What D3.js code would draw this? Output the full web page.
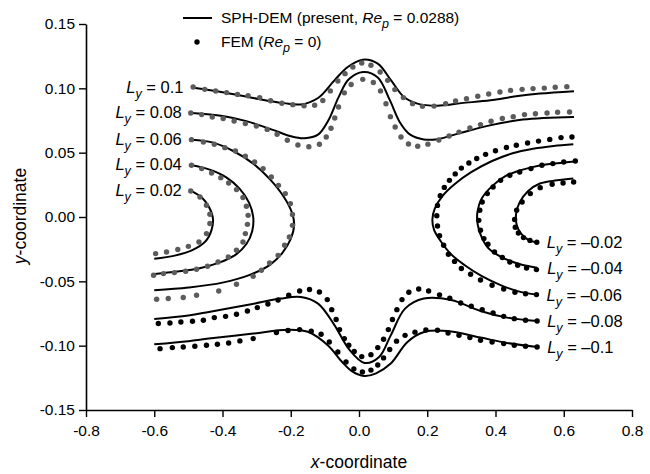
<!DOCTYPE html>
<html>
<head>
<meta charset="utf-8">
<script src="https://cdn.jsdelivr.net/npm/d3@7"></script>
<style>
  body { margin: 0; background: #fff; }
  svg { display: block; }
  text { font-family: "Liberation Sans", Arial, Helvetica, sans-serif; fill: #000; }
</style>
</head>
<body>
<svg id="chart" width="650" height="474"></svg>
<script>
// Particle trajectories released at different lateral offsets L_y.
const lyValues = [0.1, 0.08, 0.06, 0.04, 0.02, -0.02, -0.04, -0.06, -0.08, -0.1];
const lyLabels = ["0.1", "0.08", "0.06", "0.04", "0.02", "\u20130.02", "\u20130.04", "\u20130.06", "\u20130.08", "\u20130.1"];

// SPH-DEM trajectories (present, Re_p = 0.0288): [x, y]
const sphP010 = [[-0.485,0.1005],[-0.40,0.0970],[-0.31,0.0925],[-0.22,0.0885],[-0.17,0.0875],[-0.12,0.0925],[-0.072,0.1062],[-0.033,0.1166],[0.011,0.1223],[0.055,0.1192],[0.094,0.1062],[0.132,0.0932],[0.171,0.0881],[0.23,0.0865],[0.30,0.0885],[0.385,0.0907],[0.46,0.0938],[0.53,0.0959],[0.63,0.0978]];
const sphP008 = [[-0.49,0.0808],[-0.40,0.0785],[-0.33,0.0745],[-0.25,0.0675],[-0.20,0.0628],[-0.16,0.0612],[-0.12,0.0640],[-0.09,0.0750],[-0.06,0.0930],[-0.03,0.1070],[0.012,0.1127],[0.055,0.1085],[0.09,0.0910],[0.12,0.0735],[0.15,0.0640],[0.19,0.0603],[0.23,0.0605],[0.29,0.0648],[0.38,0.0710],[0.48,0.0757],[0.63,0.0777]];
const sphP006 = [[-0.49,0.0601],[-0.43,0.0580],[-0.37,0.0515],[-0.31,0.0415],[-0.26,0.0290],[-0.22,0.0155],[-0.196,0.0030],[-0.19,-0.0060],[-0.20,-0.0170],[-0.225,-0.0280],[-0.26,-0.0370],[-0.32,-0.0450],[-0.40,-0.0510],[-0.50,-0.0548],[-0.60,-0.0570]];
const sphP004 = [[-0.49,0.0402],[-0.44,0.0370],[-0.39,0.0310],[-0.35,0.0220],[-0.322,0.0110],[-0.31,0.0],[-0.313,-0.0110],[-0.33,-0.0210],[-0.36,-0.0290],[-0.41,-0.0355],[-0.47,-0.0400],[-0.54,-0.0425],[-0.605,-0.0445]];
const sphP002 = [[-0.49,0.0202],[-0.46,0.0150],[-0.44,0.0080],[-0.428,-0.0010],[-0.432,-0.0100],[-0.45,-0.0190],[-0.49,-0.0260],[-0.54,-0.0300],[-0.60,-0.0325]];
const sphN002 = [[0.628,0.0300],[0.58,0.0285],[0.53,0.0260],[0.495,0.0200],[0.47,0.0110],[0.46,0.0020],[0.462,-0.0060],[0.475,-0.0130],[0.495,-0.0175],[0.521,-0.0198]];
const sphN004 = [[0.632,0.0432],[0.58,0.0418],[0.53,0.0400],[0.48,0.0368],[0.43,0.0320],[0.39,0.0240],[0.36,0.0145],[0.347,0.0040],[0.348,-0.0060],[0.36,-0.0160],[0.38,-0.0245],[0.42,-0.0315],[0.47,-0.0365],[0.522,-0.0395]];
const sphN006 = [[0.628,0.0565],[0.57,0.0552],[0.51,0.0530],[0.45,0.0495],[0.39,0.0435],[0.33,0.0350],[0.28,0.0255],[0.245,0.0165],[0.222,0.0065],[0.215,-0.0020],[0.22,-0.0100],[0.24,-0.0190],[0.27,-0.0290],[0.31,-0.0375],[0.36,-0.0460],[0.42,-0.0535],[0.47,-0.0580],[0.52,-0.0603]];
const sphN008 = [[-0.60,-0.0792],[-0.50,-0.0765],[-0.44,-0.0738],[-0.32,-0.0680],[-0.23,-0.0634],[-0.17,-0.0622],[-0.12,-0.0673],[-0.072,-0.0840],[-0.03,-0.1025],[0.016,-0.1134],[0.059,-0.1088],[0.093,-0.0920],[0.135,-0.0712],[0.19,-0.0634],[0.27,-0.0645],[0.356,-0.0730],[0.434,-0.0782],[0.522,-0.0808]];
const sphN010 = [[-0.60,-0.0989],[-0.50,-0.0965],[-0.44,-0.0945],[-0.31,-0.0906],[-0.21,-0.0876],[-0.15,-0.0892],[-0.09,-0.1000],[-0.05,-0.1125],[-0.02,-0.1200],[0.015,-0.1235],[0.05,-0.1215],[0.093,-0.1139],[0.142,-0.0971],[0.191,-0.0894],[0.259,-0.0886],[0.356,-0.0937],[0.434,-0.0979],[0.522,-0.1010]];

// FEM trajectories (Re_p = 0): [x, y]
const femP010 = [[-0.486,0.1010],[-0.452,0.0992],[-0.420,0.0979],[-0.388,0.0967],[-0.356,0.0953],[-0.325,0.0942],[-0.291,0.0928],[-0.259,0.0903],[-0.226,0.0884],[-0.194,0.0873],[-0.161,0.0865],[-0.130,0.0868],[-0.106,0.0905],[-0.084,0.0980],[-0.062,0.1057],[-0.041,0.1114],[-0.018,0.1166],[0.008,0.1197],[0.035,0.1179],[0.062,0.1127],[0.084,0.1062],[0.105,0.0990],[0.130,0.0928],[0.157,0.0881],[0.186,0.0860],[0.220,0.0862],[0.254,0.0881],[0.283,0.0901],[0.315,0.0920],[0.348,0.0938],[0.380,0.0956],[0.413,0.0971],[0.444,0.0984],[0.478,0.0992],[0.510,0.0998],[0.543,0.1002],[0.575,0.1008],[0.609,0.1013]];
const femP008 = [[-0.493,0.0808],[-0.461,0.0796],[-0.430,0.0777],[-0.398,0.0765],[-0.366,0.0746],[-0.333,0.0726],[-0.301,0.0707],[-0.269,0.0681],[-0.240,0.0643],[-0.210,0.0596],[-0.179,0.0560],[-0.147,0.0546],[-0.116,0.0565],[-0.096,0.0622],[-0.082,0.0690],[-0.071,0.0770],[-0.060,0.0855],[-0.043,0.0965],[-0.023,0.1030],[0.011,0.1070],[0.042,0.1045],[0.063,0.0980],[0.079,0.0880],[0.092,0.0780],[0.106,0.0699],[0.123,0.0622],[0.145,0.0567],[0.172,0.0550],[0.202,0.0566],[0.234,0.0598],[0.264,0.0629],[0.293,0.0660],[0.325,0.0692],[0.356,0.0718],[0.387,0.0744],[0.420,0.0765],[0.452,0.0780],[0.485,0.0796],[0.517,0.0803],[0.551,0.0808],[0.582,0.0814],[0.617,0.0816]];
const femP006 = [[-0.491,0.0601],[-0.456,0.0583],[-0.424,0.0565],[-0.393,0.0539],[-0.362,0.0513],[-0.333,0.0472],[-0.306,0.0427],[-0.281,0.0376],[-0.257,0.0311],[-0.236,0.0246],[-0.216,0.0182],[-0.201,0.0104],[-0.195,0.0020],[-0.195,-0.0065],[-0.204,-0.0155],[-0.218,-0.0220],[-0.237,-0.0298],[-0.262,-0.0357],[-0.286,-0.0414],[-0.310,-0.0461],[-0.359,-0.0523],[-0.411,-0.0575],[-0.476,-0.0608],[-0.515,-0.0626],[-0.559,-0.0634],[-0.593,-0.0639]];
const femP004 = [[-0.491,0.0402],[-0.461,0.0376],[-0.432,0.0342],[-0.405,0.0306],[-0.382,0.0264],[-0.359,0.0213],[-0.340,0.0151],[-0.330,0.0083],[-0.325,0.0013],[-0.327,-0.0057],[-0.333,-0.0129],[-0.340,-0.0194],[-0.359,-0.0259],[-0.383,-0.0311],[-0.413,-0.0350],[-0.444,-0.0383],[-0.476,-0.0406],[-0.508,-0.0422],[-0.541,-0.0432],[-0.573,-0.0440],[-0.602,-0.0453]];
const femP002 = [[-0.493,0.0202],[-0.466,0.0155],[-0.447,0.0091],[-0.437,0.0021],[-0.437,-0.0051],[-0.447,-0.0129],[-0.469,-0.0194],[-0.500,-0.0228],[-0.531,-0.0253],[-0.564,-0.0272],[-0.596,-0.0285]];
const femN002 = [[0.629,0.0272],[0.598,0.0264],[0.566,0.0254],[0.531,0.0228],[0.502,0.0182],[0.478,0.0117],[0.462,0.0052],[0.456,-0.0020],[0.458,-0.0080],[0.467,-0.0124],[0.482,-0.0160],[0.501,-0.0182],[0.521,-0.0196]];
const femN004 = [[0.634,0.0435],[0.600,0.0427],[0.568,0.0415],[0.536,0.0402],[0.504,0.0376],[0.471,0.0350],[0.442,0.0324],[0.415,0.0285],[0.393,0.0233],[0.376,0.0182],[0.361,0.0117],[0.354,0.0052],[0.351,-0.0026],[0.356,-0.0103],[0.366,-0.0168],[0.378,-0.0212],[0.397,-0.0272],[0.420,-0.0315],[0.442,-0.0350],[0.465,-0.0375],[0.491,-0.0396],[0.520,-0.0409]];
const femN006 = [[0.624,0.0622],[0.592,0.0617],[0.559,0.0603],[0.526,0.0590],[0.494,0.0575],[0.461,0.0558],[0.432,0.0540],[0.400,0.0515],[0.371,0.0487],[0.345,0.0455],[0.322,0.0420],[0.300,0.0380],[0.282,0.0335],[0.265,0.0285],[0.250,0.0230],[0.238,0.0165],[0.230,0.0090],[0.228,0.0010],[0.230,-0.0070],[0.236,-0.0145],[0.248,-0.0220],[0.262,-0.0290],[0.280,-0.0345],[0.300,-0.0400],[0.327,-0.0445],[0.356,-0.0490],[0.390,-0.0530],[0.424,-0.0560],[0.457,-0.0585],[0.488,-0.0597],[0.520,-0.0603]];
const femN008 = [[-0.588,-0.0828],[-0.554,-0.0824],[-0.522,-0.0816],[-0.488,-0.0810],[-0.456,-0.0803],[-0.424,-0.0782],[-0.391,-0.0772],[-0.359,-0.0756],[-0.327,-0.0730],[-0.298,-0.0704],[-0.267,-0.0676],[-0.237,-0.0645],[-0.206,-0.0608],[-0.174,-0.0575],[-0.145,-0.0564],[-0.116,-0.0583],[-0.093,-0.0642],[-0.080,-0.0720],[-0.067,-0.0797],[-0.057,-0.0875],[-0.043,-0.0945],[-0.030,-0.0997],[-0.014,-0.1045],[0.008,-0.1085],[0.035,-0.1070],[0.055,-0.1015],[0.072,-0.0950],[0.086,-0.0875],[0.098,-0.0797],[0.111,-0.0720],[0.126,-0.0642],[0.146,-0.0585],[0.175,-0.0560],[0.204,-0.0575],[0.236,-0.0605],[0.266,-0.0632],[0.298,-0.0668],[0.329,-0.0694],[0.361,-0.0720],[0.393,-0.0746],[0.424,-0.0772],[0.455,-0.0790],[0.488,-0.0803],[0.522,-0.0808]];
const femN010 = [[-0.583,-0.1023],[-0.547,-0.1015],[-0.515,-0.1010],[-0.481,-0.1005],[-0.447,-0.0997],[-0.415,-0.0989],[-0.382,-0.0979],[-0.349,-0.0963],[-0.310,-0.0945],[-0.242,-0.0898],[-0.208,-0.0882],[-0.174,-0.0875],[-0.140,-0.0888],[-0.111,-0.0911],[-0.087,-0.0971],[-0.062,-0.1049],[-0.038,-0.1127],[-0.015,-0.1180],[0.010,-0.1205],[0.035,-0.1190],[0.055,-0.1150],[0.072,-0.1095],[0.090,-0.1030],[0.110,-0.0965],[0.135,-0.0920],[0.164,-0.0895],[0.196,-0.0878],[0.230,-0.0880],[0.261,-0.0901],[0.293,-0.0919],[0.325,-0.0937],[0.356,-0.0958],[0.390,-0.0971],[0.424,-0.0984],[0.455,-0.0997],[0.488,-0.1005],[0.522,-0.1010]];

// Axis ticks
const xTicks = [-0.8, -0.6, -0.4, -0.2, 0.0, 0.2, 0.4, 0.6, 0.8];
const xMinorTicks = [-0.7, -0.5, -0.3, -0.1, 0.1, 0.3, 0.5, 0.7];
const yTicks = [-0.15, -0.10, -0.05, 0.00, 0.05, 0.10, 0.15];
const yMinorTicks = [-0.125, -0.075, -0.025, 0.025, 0.075, 0.125];

const sphSeries = [sphP010, sphP008, sphP006, sphP004, sphP002, sphN002, sphN004, sphN006, sphN008, sphN010];
const femSeries = [femP010, femP008, femP006, femP004, femP002, femN002, femN004, femN006, femN008, femN010];

const svg = d3.select("#chart");
const x = d3.scaleLinear().domain([-0.8, 0.8]).range([86, 632]);
const y = d3.scaleLinear().domain([-0.15, 0.15]).range([410, 24]);

const FONT = 15.5;

// Axes
const gx = svg.append("g").attr("transform", `translate(0,${y(-0.15)})`);
gx.call(d3.axisBottom(x).tickValues(xMinorTicks).tickSize(4).tickSizeOuter(0).tickFormat(""));
gx.call(d3.axisBottom(x).tickValues(xTicks).tickSize(7).tickSizeOuter(0).tickPadding(8)
  .tickFormat(d => d.toFixed(1)));
const gy = svg.append("g").attr("transform", `translate(${x(-0.8)},0)`);
gy.call(d3.axisLeft(y).tickValues(yMinorTicks).tickSize(4).tickSizeOuter(0).tickFormat(""));
gy.call(d3.axisLeft(y).tickValues(yTicks).tickSize(7).tickSizeOuter(0).tickPadding(4)
  .tickFormat(d => d.toFixed(2)));
svg.selectAll(".domain").attr("stroke", "#000").attr("stroke-width", 1.6);
svg.selectAll(".tick line").attr("stroke", "#000").attr("stroke-width", 1.4);
svg.selectAll(".tick text").attr("font-size", FONT).attr("font-family", null).attr("fill", "#000");

// Axis titles
const xt = svg.append("text").attr("x", 359).attr("y", 468).attr("text-anchor", "middle").attr("font-size", 17.5);
xt.append("tspan").attr("font-style", "italic").text("x");
xt.append("tspan").text("-coordinate");
const yt = svg.append("text").attr("transform", "translate(26,216) rotate(-90)").attr("text-anchor", "middle").attr("font-size", 17.5);
yt.append("tspan").attr("font-style", "italic").text("y");
yt.append("tspan").text("-coordinate");

// SPH-DEM lines
const line = d3.line().x(d => x(d[0])).y(d => y(d[1])).curve(d3.curveCatmullRom.alpha(0.5));
svg.append("g").selectAll("path").data(sphSeries).join("path")
  .attr("d", line).attr("fill", "none").attr("stroke", "#000").attr("stroke-width", 2);

// FEM points: grey for positive L_y, black for negative
femSeries.forEach((pts, i) => {
  svg.append("g").selectAll("circle").data(pts).join("circle")
    .attr("cx", d => x(d[0])).attr("cy", d => y(d[1])).attr("r", 2.7)
    .attr("fill", lyValues[i] > 0 ? "#5c5c5c" : "#000");
});

// L_y labels beside the release points
function lyLabel(px, py, anchor, txt) {
  const t = svg.append("text").attr("x", px).attr("y", py).attr("text-anchor", anchor).attr("font-size", FONT + 1);
  t.append("tspan").attr("font-style", "italic").text("L");
  t.append("tspan").attr("font-style", "italic").attr("font-size", FONT - 3).attr("dy", 5).text("y");
  t.append("tspan").attr("dy", -5).text(" = " + txt);
}
sphSeries.forEach((pts, i) => {
  if (lyValues[i] > 0) {
    const s = pts[0];
    lyLabel(x(s[0]) - 10, y(s[1]) + 5, "end", lyLabels[i]);
  } else {
    const e = pts[pts.length - 1];
    lyLabel(x(e[0]) + 10, y(e[1]) + 6, "start", lyLabels[i]);
  }
});

// Legend
const lg = svg.append("g");
lg.append("line").attr("x1", 183).attr("x2", 212).attr("y1", 18).attr("y2", 18).attr("stroke", "#000").attr("stroke-width", 2);
lg.append("circle").attr("cx", 197).attr("cy", 42).attr("r", 2.7).attr("fill", "#000");
const l1 = lg.append("text").attr("x", 221).attr("y", 23).attr("font-size", FONT);
l1.append("tspan").text("SPH-DEM (present, ");
l1.append("tspan").attr("font-style", "italic").text("Re");
l1.append("tspan").attr("font-style", "italic").attr("font-size", FONT - 3).attr("dy", 5).text("p");
l1.append("tspan").attr("dy", -5).text(" = 0.0288)");
const l2 = lg.append("text").attr("x", 221).attr("y", 47).attr("font-size", FONT);
l2.append("tspan").text("FEM (");
l2.append("tspan").attr("font-style", "italic").text("Re");
l2.append("tspan").attr("font-style", "italic").attr("font-size", FONT - 3).attr("dy", 5).text("p");
l2.append("tspan").attr("dy", -5).text(" = 0)");
</script>
</body>
</html>
